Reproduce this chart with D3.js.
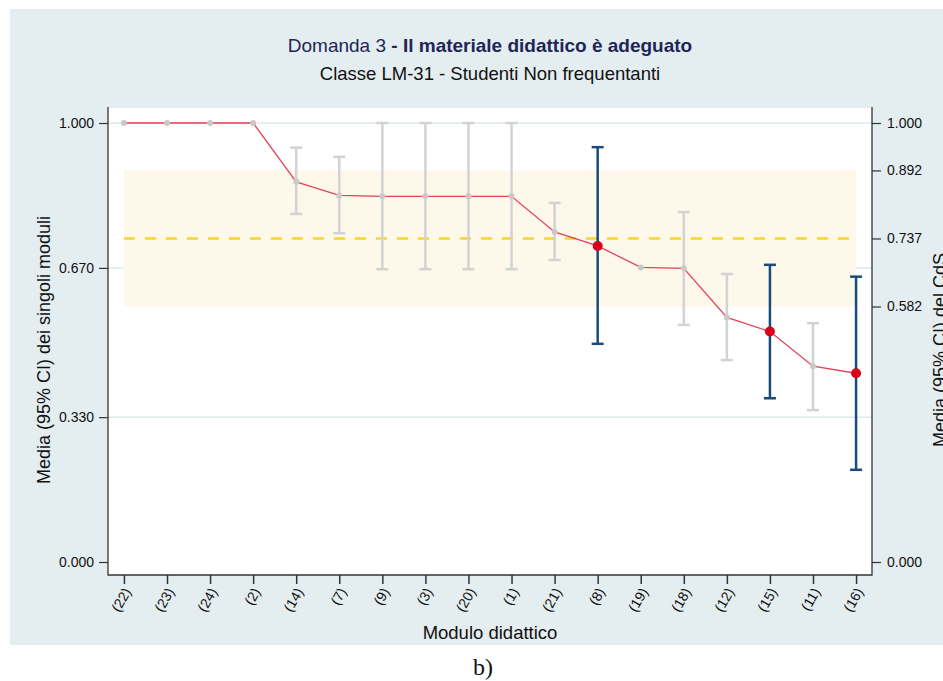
<!DOCTYPE html>
<html>
<head>
<meta charset="utf-8">
<script src="https://cdn.jsdelivr.net/npm/d3@7"></script>
<style>
  html, body { margin: 0; padding: 0; background: #ffffff; }
  svg { display: block; font-family: "Liberation Sans", Arial, Helvetica, sans-serif; }
</style>
</head>
<body>
<svg id="chart" width="943" height="681"></svg>
<script>
// Modules, ordered by mean score
const categories = ["(22)", "(23)", "(24)", "(2)", "(14)", "(7)", "(9)", "(3)", "(20)", "(1)",
                    "(21)", "(8)", "(19)", "(18)", "(12)", "(15)", "(11)", "(16)"];
const means = [1.000, 1.000, 1.000, 1.000, 0.866, 0.835, 0.833, 0.833, 0.833, 0.833,
               0.752, 0.720, 0.671, 0.669, 0.557, 0.525, 0.446, 0.430];
const ciLower = [null, null, null, null, 0.793, 0.749, 0.667, 0.667, 0.667, 0.667,
                 0.688, 0.497, null, 0.540, 0.460, 0.373, 0.346, 0.210];
const ciUpper = [null, null, null, null, 0.944, 0.923, 1.000, 1.000, 1.000, 1.000,
                 0.818, 0.945, null, 0.797, 0.656, 0.677, 0.544, 0.650];
// Modules whose interval is highlighted
const highlighted = ["(8)", "(15)", "(16)"];

// Degree course (CdS) mean and 95% CI
const cdsMean = 0.737;
const cdsLower = 0.582;
const cdsUpper = 0.892;

const leftTicks = [0, 0.33, 0.67, 1];
const rightTicks = [0, 0.582, 0.737, 0.892, 1];

const svg = d3.select("#chart");
const plot = { left: 108, right: 872, top: 108, bottom: 575 };

const x = d3.scalePoint().domain(categories).range([plot.left, plot.right]).padding(0.37);
const y = d3.scaleLinear().domain([-0.0296, 1.0342]).range([plot.bottom, plot.top]);

const rows = categories.map((c, i) => ({
  cat: c, mean: means[i], lo: ciLower[i], hi: ciUpper[i], hl: highlighted.includes(c)
}));

// Outer panel
svg.append("rect").attr("x", 10).attr("y", 9).attr("width", 933).attr("height", 636)
  .attr("fill", "#e4edf0");

// Plot region
svg.append("rect").attr("x", plot.left).attr("y", plot.top)
  .attr("width", plot.right - plot.left).attr("height", plot.bottom - plot.top)
  .attr("fill", "#ffffff");

// Grid lines
svg.append("g").selectAll("line").data(leftTicks.filter(d => d > 0)).join("line")
  .attr("x1", plot.left).attr("x2", plot.right)
  .attr("y1", d => y(d)).attr("y2", d => y(d))
  .attr("stroke", "#dde9ed").attr("stroke-width", 1.5);

// CdS confidence band and mean
const xFirst = x(categories[0]), xLast = x(categories[categories.length - 1]);
svg.append("rect").attr("x", xFirst).attr("y", y(cdsUpper))
  .attr("width", xLast - xFirst).attr("height", y(cdsLower) - y(cdsUpper))
  .attr("fill", "#fdf8e9");
svg.append("line").attr("x1", xFirst).attr("x2", xLast)
  .attr("y1", y(cdsMean)).attr("y2", y(cdsMean))
  .attr("stroke", "#f6d52e").attr("stroke-width", 2.5).attr("stroke-dasharray", "11,10");

// Module confidence intervals
const ciRows = rows.filter(d => d.lo !== null);
const ci = svg.append("g").selectAll("g").data(ciRows).join("g")
  .attr("stroke", d => d.hl ? "#1b4a7c" : "#d3d3d3")
  .attr("stroke-width", 2.5);
ci.append("line").attr("x1", d => x(d.cat)).attr("x2", d => x(d.cat))
  .attr("y1", d => y(d.hi)).attr("y2", d => y(d.lo));
ci.append("line").attr("x1", d => x(d.cat) - 6).attr("x2", d => x(d.cat) + 6)
  .attr("y1", d => y(d.hi)).attr("y2", d => y(d.hi));
ci.append("line").attr("x1", d => x(d.cat) - 6).attr("x2", d => x(d.cat) + 6)
  .attr("y1", d => y(d.lo)).attr("y2", d => y(d.lo));

// Line joining module means
svg.append("path").datum(rows)
  .attr("d", d3.line().x(d => x(d.cat)).y(d => y(d.mean)))
  .attr("fill", "none").attr("stroke", "#e4405c").attr("stroke-width", 1.3);

// Mean markers
svg.append("g").selectAll("circle").data(rows).join("circle")
  .attr("cx", d => x(d.cat)).attr("cy", d => y(d.mean))
  .attr("r", d => d.hl ? 5 : 3)
  .attr("fill", d => d.hl ? "#d9001c" : "#c9c9c9");

// Axes
const axisColor = "#333333";
const tickFont = "14px";
const leftAxis = svg.append("g").attr("transform", `translate(${plot.left},0)`)
  .call(d3.axisLeft(y).tickValues(leftTicks).tickFormat(d3.format(".3f")).tickSize(9).tickPadding(5));
const rightAxis = svg.append("g").attr("transform", `translate(${plot.right},0)`)
  .call(d3.axisRight(y).tickValues(rightTicks).tickFormat(d3.format(".3f")).tickSize(9).tickPadding(6));
[leftAxis, rightAxis].forEach(g => {
  g.select(".domain").remove();
  g.selectAll(".tick line").attr("stroke", axisColor).attr("stroke-width", 1.2);
  g.selectAll(".tick text").attr("fill", "#111").style("font-size", tickFont)
    .style("font-family", "'Liberation Sans', Arial, sans-serif");
});

const bottomAxis = svg.append("g").attr("transform", `translate(0,${plot.bottom})`)
  .call(d3.axisBottom(x).tickSize(9).tickPadding(4));
bottomAxis.select(".domain").remove();
bottomAxis.selectAll(".tick line").attr("stroke", axisColor).attr("stroke-width", 1.5);
bottomAxis.selectAll(".tick text")
  .attr("fill", "#111").style("font-size", tickFont)
  .style("font-family", "'Liberation Sans', Arial, sans-serif")
  .attr("text-anchor", "end")
  .attr("transform", "translate(3,14) rotate(-60)")
  .attr("dy", "0.35em").attr("y", 0);

// Frame: left, bottom, right
svg.append("path")
  .attr("d", `M${plot.left},${plot.top - 1}V${plot.bottom}H${plot.right}V${plot.top - 1}`)
  .attr("fill", "none").attr("stroke", axisColor).attr("stroke-width", 1.3);

// Titles
const title = svg.append("text").attr("x", 490).attr("y", 52).attr("text-anchor", "middle")
  .attr("fill", "#1f2657").style("font-size", "19px");
title.append("tspan").text("Domanda 3 ");
title.append("tspan").attr("font-weight", "bold").text("- Il materiale didattico è adeguato");

svg.append("text").attr("x", 490).attr("y", 80).attr("text-anchor", "middle")
  .attr("fill", "#111").style("font-size", "18.5px")
  .text("Classe LM-31 - Studenti Non frequentanti");

svg.append("text").attr("x", 490).attr("y", 639).attr("text-anchor", "middle")
  .attr("fill", "#111").style("font-size", "18.5px").text("Modulo didattico");

svg.append("text").attr("transform", "translate(50,350) rotate(-90)").attr("text-anchor", "middle")
  .attr("fill", "#111").style("font-size", "18px").text("Media (95% CI) dei singoli moduli");

svg.append("text").attr("transform", "translate(946,350) rotate(-90)").attr("text-anchor", "middle")
  .attr("fill", "#111").style("font-size", "18px").text("Media (95% CI) del CdS");

// Caption
svg.append("text").attr("x", 483).attr("y", 675).attr("text-anchor", "middle")
  .attr("fill", "#111").style("font-family", "'Liberation Serif', 'DejaVu Serif', serif")
  .style("font-size", "24px").text("b)");
</script>
</body>
</html>
